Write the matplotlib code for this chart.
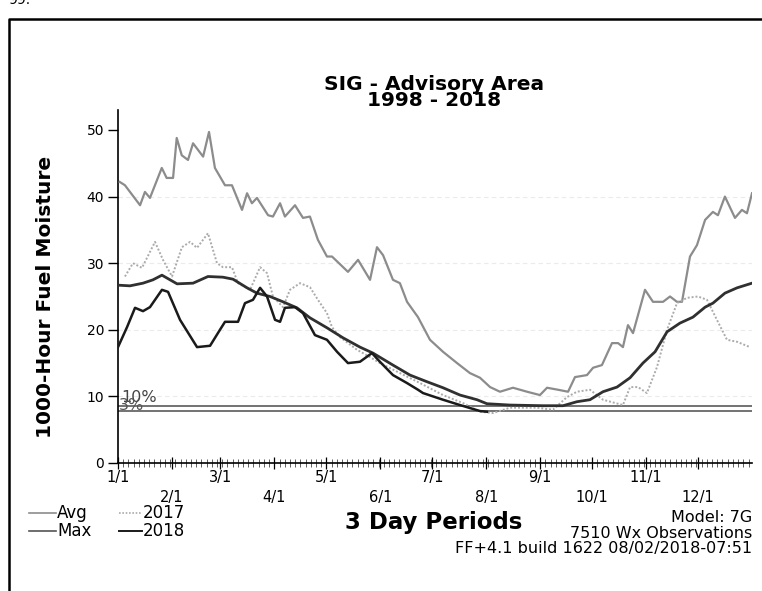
import matplotlib.pyplot as plt
from matplotlib.lines import Line2D

plt.rcParams['font.family'] = ['DejaVu Sans']

# --- values (x = day of year, y = 1000-hr fuel moisture) ---
max_days = [1, 4, 12.7, 15.5, 18.4, 25.2, 28, 31.7, 33.8, 36.7, 40.3, 43.2, 49, 52.4,
            55.8, 61.6, 65.6, 71.4, 74.3, 77.1, 80, 86.4, 89.2, 93.3, 96.1, 101.9,
            106.5, 110.5, 115.1, 120.3, 123.2, 132.4, 138.2, 145.1, 149.1, 152.6,
            158.3, 162.3, 166.4, 172.7, 179.6, 187.1, 195.2, 202.6, 208.4, 214.2,
            219.9, 227.4, 235.5, 242.9, 247, 253.3, 259.1, 263.1, 270, 273.5, 278.6,
            284.4, 287.9, 290.7, 293.6, 296.5, 303.4, 308, 313.8, 317.8, 321.8,
            324.7, 329.3, 333.3, 338, 342.5, 345.4, 349.4, 355.2, 359.2, 362.1, 365]
max_vals = [42.2, 41.7, 38.7, 40.7, 39.8, 44.3, 42.8, 42.8, 48.8, 46.2, 45.5, 48, 46, 49.7,
            44.3, 41.7, 41.7, 38, 40.5, 39, 39.8, 37.2, 37, 39, 37, 38.7,
            36.8, 37, 33.5, 31, 31, 28.7, 30.5, 27.5, 32.4, 31.2,
            27.5, 27, 24.2, 21.9, 18.5, 16.7, 15, 13.5, 12.8, 11.4,
            10.7, 11.3, 10.7, 10.2, 11.3, 11, 10.7, 12.9, 13.2, 14.3, 14.7,
            18, 18, 17.4, 20.7, 19.5, 26, 24.2, 24.2, 25, 24.2,
            24.2, 31, 32.7, 36.5, 37.7, 37.2, 40, 36.8, 38, 37.5, 40.5]

avg_days = [0, 6.9, 14.4, 20.1, 25.3, 34, 43.2, 51.8, 60.4, 66.2, 74.3, 80, 87.5, 95,
            103, 110.5, 120.3, 129.5, 139.3, 146.8, 158.3, 168.1, 177.9, 187.1,
            196.9, 206.7, 212.4, 225.7, 244.7, 256.2, 264.2, 271.7, 279.2, 287.3,
            294.8, 302.2, 309.2, 316.1, 323.5, 331, 338, 342.5, 349.4, 356.4, 365]
avg_vals = [26.7, 26.6, 27, 27.5, 28.2, 26.9, 27, 28, 27.9, 27.6, 26.3, 25.5, 25, 24.2,
            23.3, 21.8, 20.3, 18.8, 17.4, 16.5, 14.7, 13.2, 12.2, 11.3,
            10.2, 9.5, 8.9, 8.7, 8.6, 8.6, 9.2, 9.5, 10.7, 11.4,
            12.8, 15, 16.7, 19.7, 21, 21.9, 23.4, 24, 25.5, 26.3, 27]

y2017_days = [4, 8.6, 13.8, 21.3, 25.9, 31.1, 36.8, 41.5, 45.5, 51.8, 57, 60.4, 65.6,
              69.1, 76, 81.8, 85.8, 89.2, 95, 99, 104.8, 110.5, 115.1, 120.3, 123.2,
              127.8, 137.6, 145.1, 150.8, 162.3, 173.9, 187.1, 198.6, 208.4, 215.9,
              225.7, 241.2, 250.4, 258.5, 264.2, 271.7, 279.2, 290.7, 294.8, 299.4,
              304.5, 310.3, 316.1, 321.8, 327.6, 333.9, 339.1, 344.8, 350.6, 356.4, 363.8]
y2017_vals = [28, 30, 29.3, 33.2, 30.5, 28, 32.4, 33.2, 32.3, 34.5, 30, 29.4, 29.4,
              27, 26, 29.4, 28.5, 25, 23.4, 26, 27, 26.4, 24.5, 22.5, 20.4,
              18.9, 17, 15.9, 15, 13.5, 12, 10.2, 9, 7.7, 7.5,
              8.3, 8.3, 8, 9.9, 10.7, 11, 9.5, 8.7, 11.4, 11.4,
              10.5, 14.4, 20, 24, 24.8, 25, 24.5, 21.5, 18.5, 18.2, 17.4]

y2018_days = [0, 5.2, 9.8, 14.4, 18.4, 25.3, 28.8, 35.7, 45.5, 53, 58.7, 61.6, 69.1,
              73.1, 77.7, 81.8, 85.8, 90.4, 93.3, 96.1, 101.9, 106.5, 113.4, 120.3,
              126.1, 132.4, 139.3, 146.2, 150.8, 158.3, 166.4, 172.7, 175.6, 187.1,
              196.9, 208.4, 212.4]
y2018_vals = [17.4, 20.4, 23.3, 22.8, 23.4, 26, 25.7, 21.5, 17.4, 17.6, 20, 21.2, 21.2,
              24, 24.5, 26.3, 25, 21.5, 21.2, 23.3, 23.4, 22.5, 19.2, 18.5,
              16.7, 15, 15.2, 16.5, 15.2, 13.2, 12, 11, 10.5, 9.5,
              8.7, 7.8, 7.7]

pct10 = 8.6
pct3 = 7.8

month_days = [0, 31, 59, 90, 120, 151, 181, 212, 243, 273, 304, 334]
month_labels = ['1/1', '2/1', '3/1', '4/1', '5/1', '6/1',
                '7/1', '8/1', '9/1', '10/1', '11/1', '12/1']
y_ticks = [0, 10, 20, 30, 40, 50]

W, H = 762, 591
fig = plt.figure(figsize=(W / 100, H / 100), dpi=100)
ax = fig.add_axes([118 / W, 1 - 463 / H, (752 - 118) / W, (463 - 110) / H])

# faint horizontal grid
for v in y_ticks[1:-1]:
    ax.axhline(v, color='#ebebeb', lw=0.8, ls=(0, (4, 3)), zorder=0)

ax.axhline(pct10, color='#5a5a5a', lw=1.2, zorder=1)
ax.axhline(pct3, color='#5a5a5a', lw=1.2, zorder=1)
ax.text(2, pct10 + 0.05, '10%', fontsize=11.5, color='#444444', va='bottom')
ax.text(0.5, pct3 - 0.3, '3%', fontsize=11.5, color='#555555', va='bottom')

ax.plot(max_days, max_vals, color='#8c8c8c', lw=1.6, zorder=3)
ax.plot(y2017_days, y2017_vals, color='#ababab', lw=1.4, ls=(0, (1, 1)), zorder=3)
ax.plot(avg_days, avg_vals, color='#303030', lw=2.0, zorder=4)
ax.plot(y2018_days, y2018_vals, color='#1a1a1a', lw=1.8, zorder=5)

ax.set_xlim(0, 365)
ax.set_ylim(0, 53)
for s in ['top', 'right']:
    ax.spines[s].set_visible(False)
ax.spines['left'].set_linewidth(1.2)
ax.spines['bottom'].set_linewidth(1.2)
ax.set_yticks(y_ticks)
ax.tick_params(axis='y', direction='out', length=7, width=1, labelsize=10, pad=3)
ax.set_xticks(month_days)
ax.set_xticklabels([])
ax.set_xticks(list(range(0, 366, 3)), minor=True)
ax.tick_params(axis='x', which='major', direction='inout', length=9, width=0.9)
ax.tick_params(axis='x', which='minor', direction='inout', length=6, width=0.6, colors='#444444')

for i, (d, lab) in enumerate(zip(month_days, month_labels)):
    yy = -0.042 if i % 2 == 0 else -0.097
    ax.text(d, yy, lab, transform=ax.get_xaxis_transform(), ha='center', va='center',
            fontsize=10.5)

ax.set_ylabel('1000-Hour Fuel Moisture', fontsize=14.5, fontweight='bold')
ax.yaxis.set_label_coords(-0.1, 0.47)

fig.text(434 / W, 1 - 84 / H, 'SIG - Advisory Area', ha='center', va='center',
         fontsize=14.5, fontweight='bold')
fig.text(434 / W, 1 - 101 / H, '1998 - 2018', ha='center', va='center',
         fontsize=14.5, fontweight='bold')

fig.text(434 / W, 1 - 523 / H, '3 Day Periods', ha='center', va='center',
         fontsize=16.5, fontweight='bold')
fig.text(752 / W, 1 - 517 / H, 'Model: 7G', ha='right', va='center', fontsize=11.5)
fig.text(752 / W, 1 - 533 / H, '7510 Wx Observations', ha='right', va='center', fontsize=11.5)
fig.text(752 / W, 1 - 549 / H, 'FF+4.1 build 1622 08/02/2018-07:51', ha='right',
         va='center', fontsize=11.5)

# legend in the lower left corner
legend_items = [('Avg', 29, 513, 27, '#8c8c8c', '-', 1.2),
                ('2017', 119, 513, 23, '#ababab', (0, (1, 1)), 1.2),
                ('Max', 29, 531, 27, '#555555', '-', 1.2),
                ('2018', 119, 531, 23, '#1a1a1a', '-', 1.4)]
for lab, x0, y0, ln, c, ls, lw in legend_items:
    fig.add_artist(Line2D([x0 / W, (x0 + ln) / W], [1 - y0 / H, 1 - y0 / H],
                          color=c, ls=ls, lw=lw, transform=fig.transFigure))
    fig.text((x0 + ln + 1) / W, 1 - y0 / H, lab, ha='left', va='center', fontsize=12)

# page frame around the chart
fig.add_artist(Line2D([9 / W, 9 / W, 1.0], [0, 1 - 19 / H, 1 - 19 / H],
                      color='black', lw=1.8, transform=fig.transFigure))
fig.text(8 / W, 1.0, '99.', ha='left', va='center', fontsize=10)

fig.savefig('out.png', dpi=100)
